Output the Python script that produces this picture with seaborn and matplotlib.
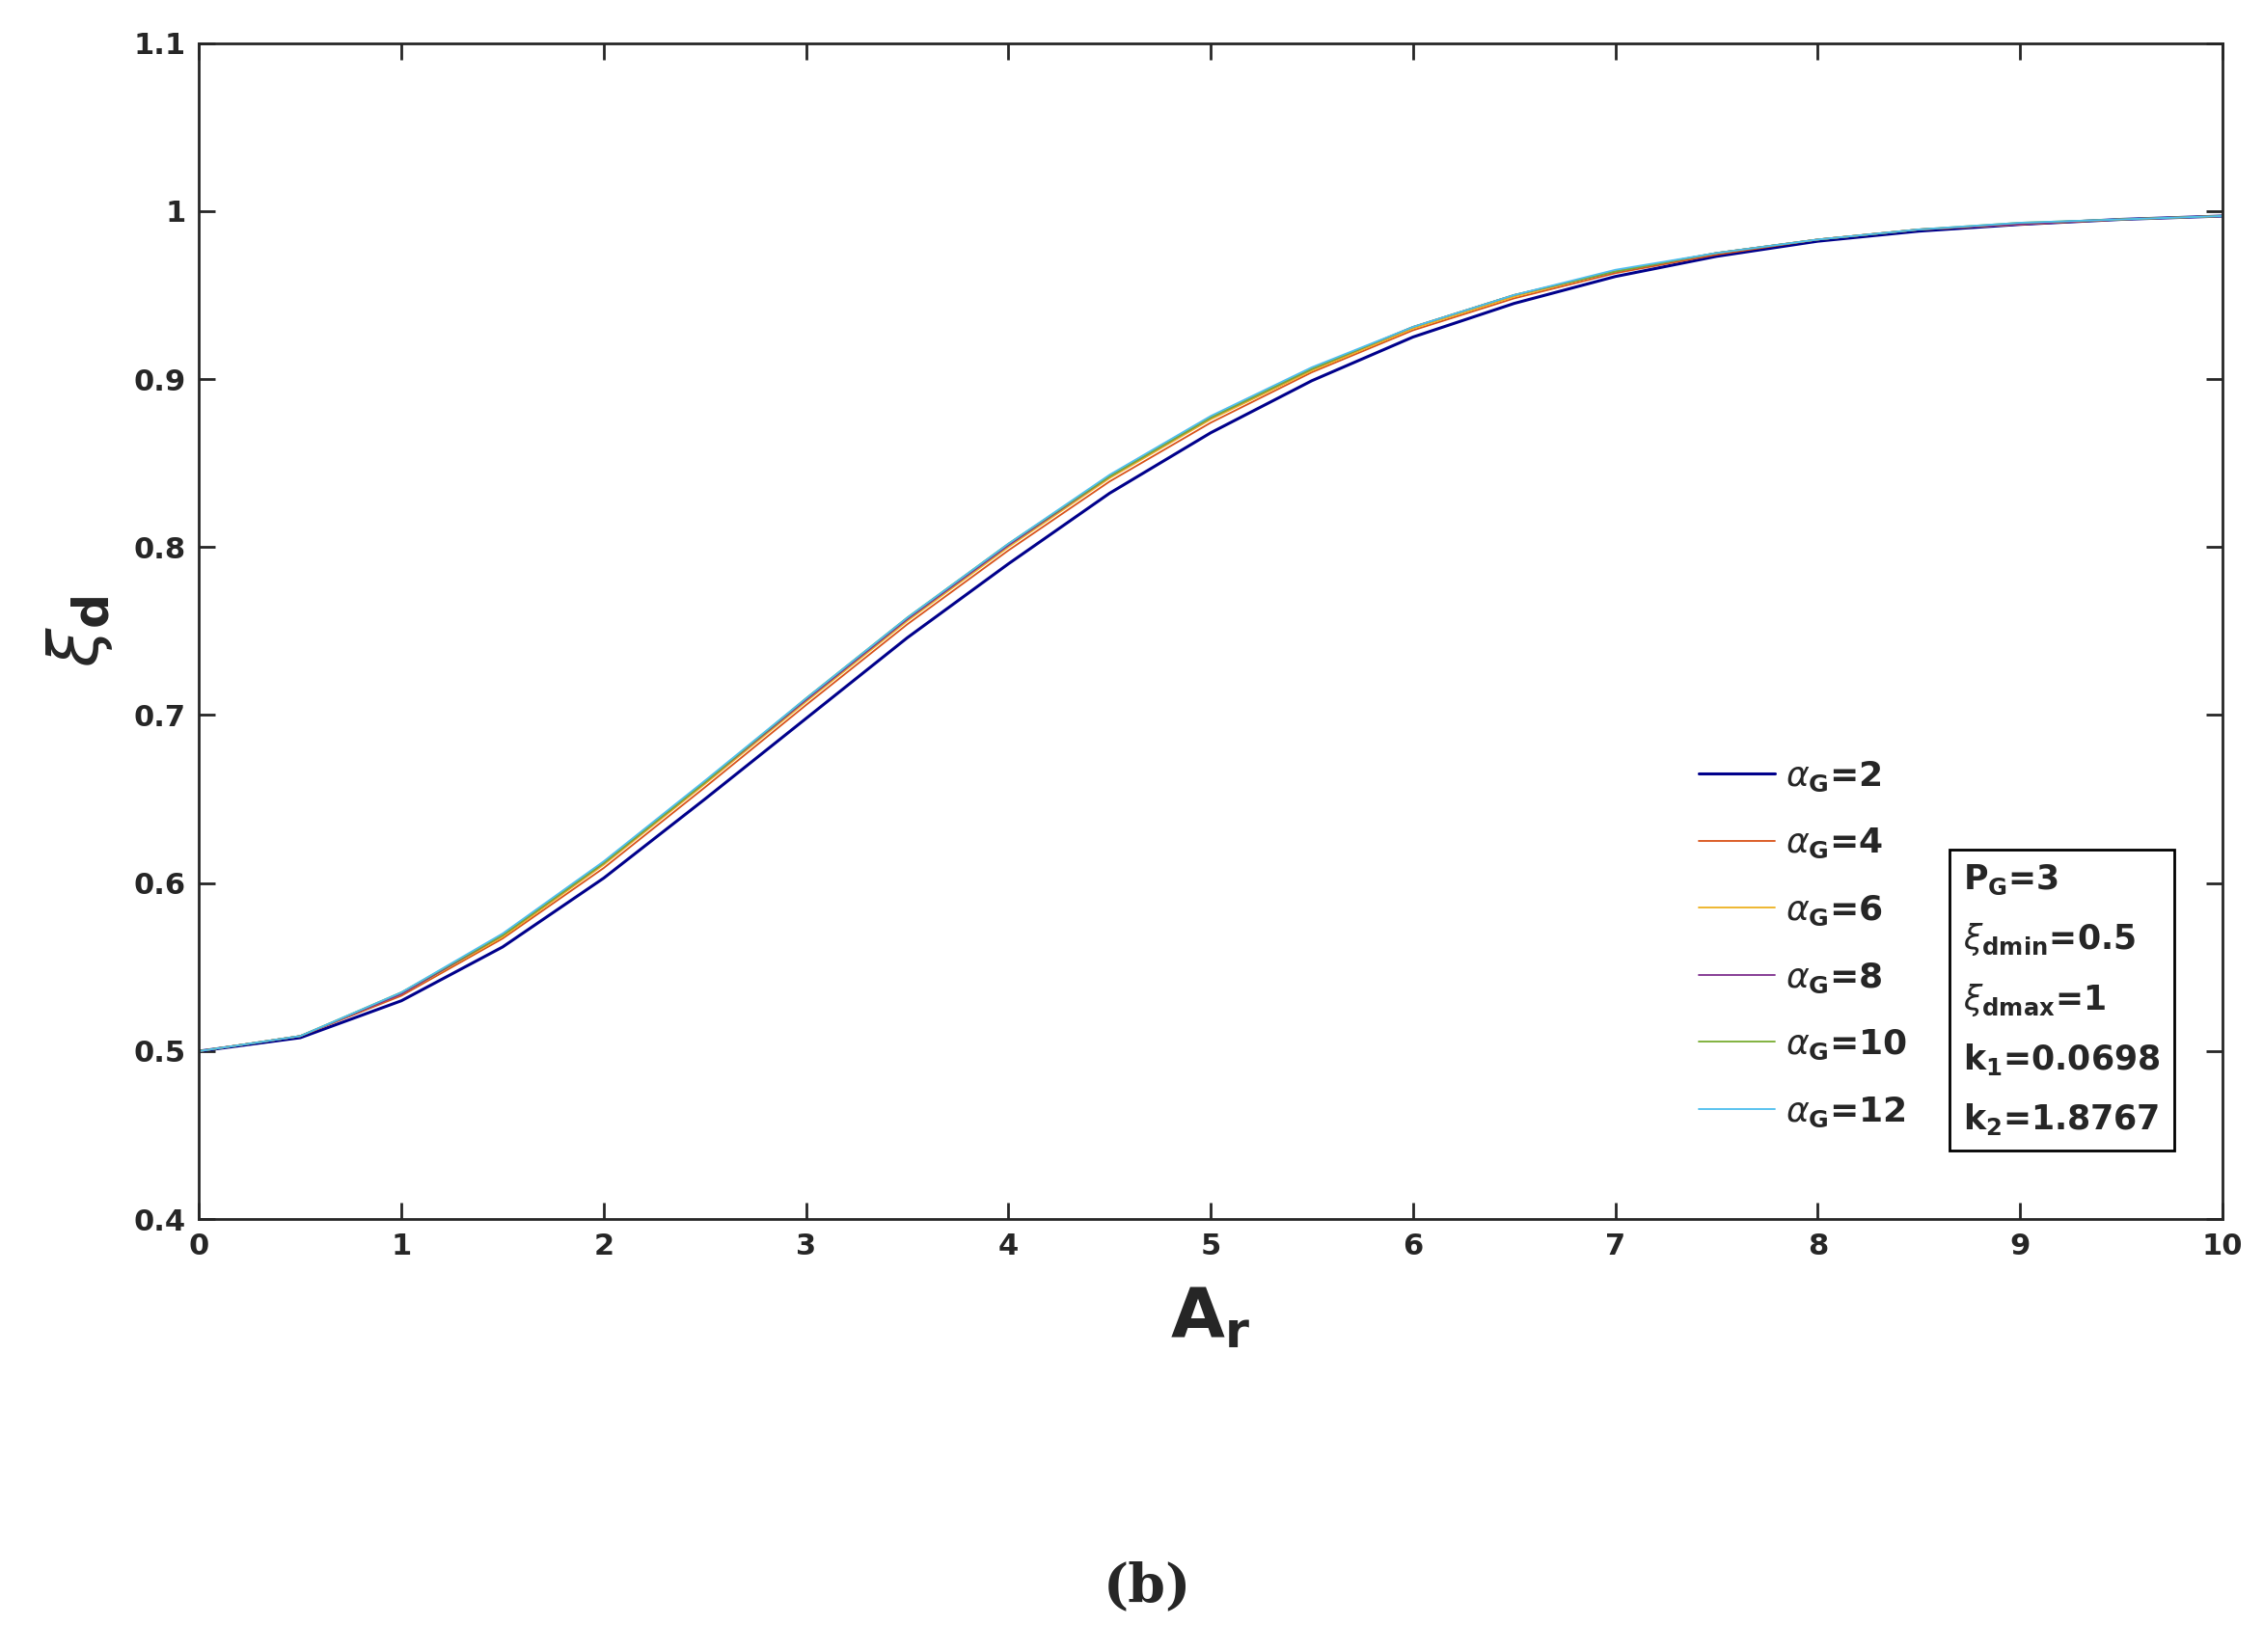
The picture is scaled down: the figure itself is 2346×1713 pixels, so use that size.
import matplotlib
matplotlib.use("Agg")
import matplotlib.pyplot as plt
import seaborn as sns
import pandas as pd

sns.set_theme(style="ticks")
plt.rcParams['font.family'] = ['DejaVu Sans']

x = [0, 0.5, 1, 1.5, 2, 2.5, 3, 3.5, 4, 4.5, 5, 5.5, 6, 6.5, 7, 7.5, 8, 8.5, 9, 9.5, 10]
a2 = [0.5, 0.508, 0.530, 0.562, 0.603, 0.650, 0.698, 0.746, 0.790, 0.832, 0.868, 0.899, 0.925, 0.945, 0.961, 0.973, 0.982, 0.988, 0.992, 0.995, 0.997]
a4 = [0.5, 0.509, 0.533, 0.567, 0.609, 0.657, 0.706, 0.754, 0.798, 0.839, 0.874, 0.904, 0.929, 0.948, 0.963, 0.974, 0.983, 0.989, 0.992, 0.995, 0.997]
a6 = [0.5, 0.509, 0.534, 0.568, 0.611, 0.659, 0.708, 0.756, 0.800, 0.841, 0.876, 0.905, 0.930, 0.949, 0.964, 0.975, 0.983, 0.989, 0.992, 0.995, 0.997]
a8 = [0.5, 0.509, 0.534, 0.569, 0.612, 0.660, 0.709, 0.757, 0.801, 0.842, 0.877, 0.906, 0.931, 0.950, 0.964, 0.975, 0.983, 0.989, 0.992, 0.995, 0.997]
a10 = [0.5, 0.509, 0.535, 0.569, 0.612, 0.660, 0.710, 0.758, 0.802, 0.842, 0.877, 0.906, 0.931, 0.950, 0.964, 0.975, 0.983, 0.989, 0.993, 0.995, 0.997]
a12 = [0.5, 0.509, 0.535, 0.570, 0.613, 0.661, 0.710, 0.758, 0.802, 0.843, 0.878, 0.907, 0.931, 0.950, 0.965, 0.975, 0.983, 0.989, 0.993, 0.995, 0.997]
labels = [r'$\alpha_{\mathbf{G}}$=2', r'$\alpha_{\mathbf{G}}$=4', r'$\alpha_{\mathbf{G}}$=6',
          r'$\alpha_{\mathbf{G}}$=8', r'$\alpha_{\mathbf{G}}$=10', r'$\alpha_{\mathbf{G}}$=12']
series = [a2, a4, a6, a8, a10, a12]
colors = ['#00008B', '#D95319', '#EDB120', '#7E2F8E', '#77AC30', '#4DBEEE']
widths = [2.2, 1.3, 1.3, 1.3, 1.3, 1.3]

fig = plt.figure(figsize=(23.46, 17.13), dpi=100)
ax = fig.add_axes([0.088, 0.262, 0.894, 0.712])
for s, lab, c, w in zip(series, labels, colors, widths):
    df = pd.DataFrame({'x': x, 'y': s})
    sns.lineplot(data=df, x='x', y='y', ax=ax, color=c, lw=w, label=lab)

ax.set_xlim(0, 10)
ax.set_ylim(0.4, 1.1)
ax.set_xticks(range(0, 11))
ax.set_yticks([0.4, 0.5, 0.6, 0.7, 0.8, 0.9, 1.0, 1.1])
ax.set_yticklabels(['0.4', '0.5', '0.6', '0.7', '0.8', '0.9', '1', '1.1'])
ax.tick_params(direction='in', length=12, width=2, labelsize=22, top=True, right=True, pad=10)
for t in ax.get_xticklabels() + ax.get_yticklabels():
    t.set_fontweight('bold')
for sp in ax.spines.values():
    sp.set_linewidth(2)
ax.set_xlabel(r'$\mathbf{A_r}$', fontsize=52, labelpad=18)
ax.set_ylabel(r'$\xi_{\mathbf{d}}$', fontsize=52, labelpad=14)

leg = ax.legend(loc='lower right', bbox_to_anchor=(0.86, 0.05), frameon=False,
                fontsize=26, handlelength=2.2, labelspacing=0.95, handletextpad=0.3)
for t in leg.get_texts():
    t.set_fontweight('bold')

txt = (r'$\mathbf{P_G}$=3' + '\n' + r'$\xi_{\mathbf{dmin}}$=0.5' + '\n' + r'$\xi_{\mathbf{dmax}}$=1'
       + '\n' + r'$\mathbf{k_1}$=0.0698' + '\n' + r'$\mathbf{k_2}$=1.8767')
ax.text(0.872, 0.07, txt, transform=ax.transAxes, fontsize=25, fontweight='bold',
        va='bottom', ha='left', linespacing=1.85,
        bbox=dict(boxstyle='square,pad=0.4', fc='white', ec='black', lw=2))

fig.text(0.507, 0.03, '(b)', fontsize=40, fontweight='bold', family='DejaVu Serif', ha='center')
fig.savefig('out.png', dpi=100)
